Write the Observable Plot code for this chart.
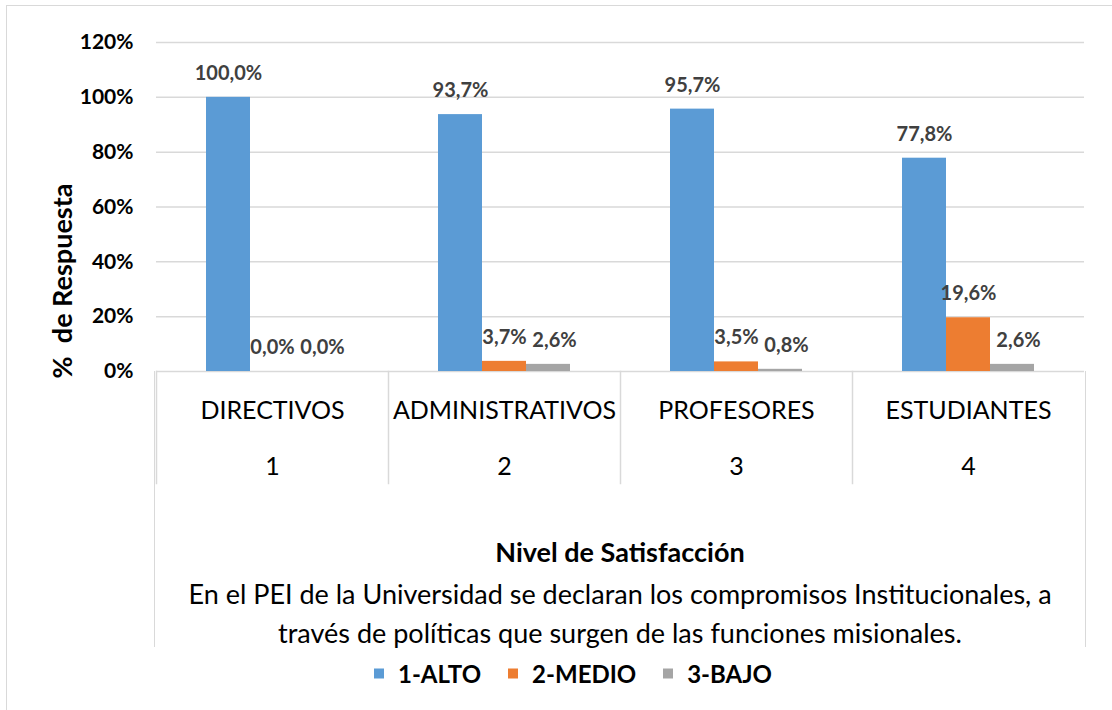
<!DOCTYPE html>
<html>
<head>
<meta charset="utf-8">
<script src="https://cdn.jsdelivr.net/npm/d3@7"></script>
<script src="https://cdn.jsdelivr.net/npm/@observablehq/plot@0.6"></script>
<style>
  body { margin: 0; background: #fff; }
  #wrap { position: relative; width: 1112px; height: 710px; overflow: hidden; background: #fff; font-family: Lato, sans-serif; color: #000; }
  #border { position: absolute; left: 6px; top: 5px; width: 1300px; height: 900px; border-top: 1.5px solid #d9d9d9; border-left: 1.5px solid #d9d9d9; }
  #chart { position: absolute; left: 0; top: 0; }
  #ytitle { position: absolute; left: 61px; top: 281px; transform: translate(-50%, -50%) rotate(-90deg); white-space: pre; font-weight: bold; font-size: 27px; }
  #box { position: absolute; left: 154px; top: 371px; width: 930px; height: 276px; border-left: 1.5px solid #d9d9d9; border-right: 1.5px solid #d9d9d9; }
  .cap { position: absolute; left: 0; width: 100%; text-align: center; line-height: 1; transform: translateY(-50%); white-space: nowrap; }
  #xtitle { top: 180px; font-weight: bold; font-size: 27px; }
  #legend { position: absolute; left: 374px; top: 673px; transform: translateY(-50%); display: flex; align-items: center; font-weight: bold; font-size: 24px; }
  .sw { width: 10px; height: 10px; margin-right: 14px; }
  .item { display: flex; align-items: center; margin-right: 27px; }
</style>
</head>
<body>
<div id="wrap">
  <div id="border"></div>
  <div id="chart"></div>
  <div id="ytitle"></div>
  <div id="box"></div>
  <div id="legend"></div>
</div>
<script>
const groups = ["DIRECTIVOS", "ADMINISTRATIVOS", "PROFESORES", "ESTUDIANTES"];
const groupNumbers = ["1", "2", "3", "4"];
const series = ["1-ALTO", "2-MEDIO", "3-BAJO"];
const colors = ["#5b9bd5", "#ed7d31", "#a5a5a5"];
const alto = [100.0, 93.7, 95.7, 77.8];
const medio = [0.0, 3.7, 3.5, 19.6];
const bajo = [0.0, 2.6, 0.8, 2.6];
const yTicks = [0, 20, 40, 60, 80, 100, 120];
const yTitle = "%  de Respuesta";
const xTitle = "Nivel de Satisfacción";
const captionLines = [
  "En el PEI de la Universidad se declaran los compromisos Institucionales, a",
  "través de políticas que surgen de las funciones misionales."
];

const values = [alto, medio, bajo];
const data = groups.flatMap((g, i) => series.map((s, j) => ({group: g, series: s, value: values[j][i]})));
const cells = groups.map((g, i) => ({group: g, num: groupNumbers[i]}));
const fmt = v => v.toFixed(1).replace(".", ",") + "%";
const labelStyle = {fx: "group", x: "series", y: "value", text: d => fmt(d.value), dy: -24, fontSize: 20, fontWeight: "bold", fill: "#404040"};

const chart = Plot.plot({
  width: 1112,
  height: 484,
  marginTop: 42,
  marginBottom: 113,
  marginLeft: 155,
  marginRight: 27,
  style: {fontFamily: "Lato, sans-serif", background: "transparent", overflow: "visible"},
  fx: {domain: groups, paddingInner: 0, paddingOuter: 0, axis: null},
  x: {domain: series, paddingInner: 0, paddingOuter: 1.112, axis: null},
  y: {domain: [0, 120], axis: null},
  color: {domain: series, range: colors},
  marks: [
    Plot.gridY(yTicks, {stroke: "#d9d9d9", strokeOpacity: 1, strokeWidth: 1.5}),
    Plot.frame({anchor: "left", stroke: "#d9d9d9", strokeOpacity: 1, strokeWidth: 1.5, insetTop: 329, insetBottom: -112}),
    Plot.axisY(yTicks, {tickSize: 0, tickPadding: 23, tickFormat: d => d + "%", fontSize: 21, fontWeight: "bold", fill: "#000", label: null}),
    Plot.barY(data, {fx: "group", x: "series", y: "value", fill: "series"}),
    Plot.text(data.filter(d => d.series !== series[2]), labelStyle),
    Plot.text(data.filter(d => d.series === series[2]), {...labelStyle, dx: 6}),
    Plot.text(cells, {fx: "group", text: "group", frameAnchor: "bottom", lineAnchor: "middle", dy: 39, fontSize: 25, fill: "#000"}),
    Plot.text(cells, {fx: "group", text: "num", frameAnchor: "bottom", lineAnchor: "middle", dy: 95, fontSize: 25, fill: "#000"})
  ]
});
document.getElementById("chart").appendChild(chart);

document.getElementById("ytitle").textContent = yTitle;

const box = document.getElementById("box");
const t = document.createElement("div");
t.className = "cap"; t.id = "xtitle"; t.textContent = xTitle;
box.appendChild(t);
const capTops = [222, 261];
captionLines.forEach((line, i) => {
  const d = document.createElement("div");
  d.className = "cap";
  d.style.top = capTops[i] + "px";
  d.style.fontSize = "27px";
  d.textContent = line;
  box.appendChild(d);
});

const legend = document.getElementById("legend");
series.forEach((s, i) => {
  const it = document.createElement("div");
  it.className = "item";
  const sw = document.createElement("div");
  sw.className = "sw";
  sw.style.background = colors[i];
  const lb = document.createElement("span");
  lb.textContent = s;
  it.appendChild(sw); it.appendChild(lb);
  legend.appendChild(it);
});
</script>
</body>
</html>
